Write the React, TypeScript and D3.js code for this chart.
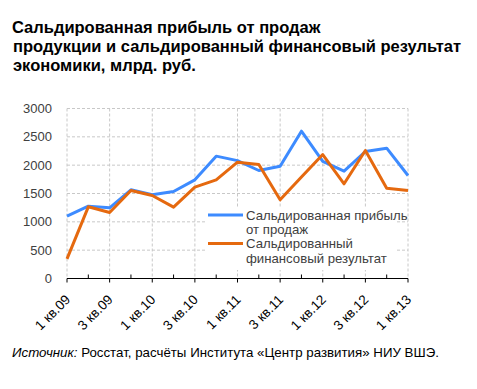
import React from "react";
import * as d3 from "d3";

const quarters = [
  "1 кв.09", "2 кв.09", "3 кв.09", "4 кв.09",
  "1 кв.10", "2 кв.10", "3 кв.10", "4 кв.10",
  "1 кв.11", "2 кв.11", "3 кв.11", "4 кв.11",
  "1 кв.12", "2 кв.12", "3 кв.12", "4 кв.12",
  "1 кв.13",
];
const profitSales = [1100, 1276, 1247, 1565, 1477, 1535, 1741, 2159, 2080, 1906, 1982, 2600, 2065, 1894, 2241, 2300, 1818];
const finResult = [347, 1265, 1165, 1553, 1465, 1259, 1612, 1741, 2053, 2012, 1388, 1790, 2188, 1671, 2259, 1594, 1553];
const yTicks = [0, 500, 1000, 1500, 2000, 2500, 3000];
const titleLines = [
  "Сальдированная прибыль от продаж",
  "продукции и сальдированный финансовый результат",
  "экономики, млрд. руб.",
];
const legendItems = [
  { lines: ["Сальдированная прибыль", "от продаж"], color: "#3d8bff" },
  { lines: ["Сальдированный", "финансовый результат"], color: "#e5690f" },
];

export default function App() {
  const W = 477, H = 389;
  const x = d3.scalePoint<number>().domain(d3.range(quarters.length)).range([67, 408]);
  const y = d3.scaleLinear().domain([0, 3000]).range([278.5, 108.5]);
  const line = d3.line<number>().x((_, i) => x(i)!).y((d) => y(d));
  const font = "Liberation Sans, Arial, sans-serif";
  return (
    <svg width={W} height={H} style={{ position: "absolute", left: 0, top: 0 }} fontFamily={font}>
      <rect width={W} height={H} fill="#fff" />
      {titleLines.map((t, i) => (
        <text key={i} x={i === 0 ? 12 : 13} y={33 + i * 19} fontSize={16.5} fontWeight="bold" fill="#000">{t}</text>
      ))}
      {yTicks.filter((v) => v > 0).map((v) => (
        <line key={v} x1={67} x2={408} y1={y(v)} y2={y(v)} stroke="#c8c8c8" strokeDasharray="3,2" />
      ))}
      {quarters.map((q, i) => i % 2 === 0 ? (
        <line key={q} x1={x(i)} x2={x(i)} y1={y(3000)} y2={y(0)} stroke="#c8c8c8" strokeDasharray="3,2" />
      ) : null)}
      {yTicks.map((v) => (
        <text key={v} x={52} y={y(v) + 4.5} fontSize={13} textAnchor="end" fill="#404040">{v}</text>
      ))}
      <line x1={67} x2={408} y1={y(0)} y2={y(0)} stroke="#000" />
      {quarters.map((q, i) => (
        <line key={q} x1={x(i)} x2={x(i)} y1={y(0)} y2={i % 2 === 0 ? y(0) + 4 : y(0) - 4} stroke="#000" />
      ))}
      {quarters.map((q, i) => i % 2 === 0 ? (
        <text key={q} transform={`translate(${x(i)! + 4},${y(0) + 22}) rotate(-45)`} fontSize={13.5} textAnchor="end" fill="#000">{q}</text>
      ) : null)}
      <path d={line(profitSales)!} fill="none" stroke={legendItems[0].color} strokeWidth={3} strokeLinejoin="round" />
      <path d={line(finResult)!} fill="none" stroke={legendItems[1].color} strokeWidth={3} strokeLinejoin="round" />
      <rect x={205} y={207} width={190} height={63} fill="#fff" />
      {legendItems.map((it, k) => (
        <g key={k}>
          <line x1={208} x2={243} y1={215 + k * 28.5} y2={215 + k * 28.5} stroke={it.color} strokeWidth={3} />
          {it.lines.map((l, j) => (
            <text key={j} x={246} y={219.5 + k * 28.5 + j * 14.5} fontSize={13.2} fill="#404040">{l}</text>
          ))}
        </g>
      ))}
      <text x={12} y={357} fontSize={13.3} fill="#000">
        <tspan fontStyle="italic">Источник:</tspan>
        <tspan> Росстат, расчёты Института «Центр развития» НИУ ВШЭ.</tspan>
      </text>
    </svg>
  );
}
